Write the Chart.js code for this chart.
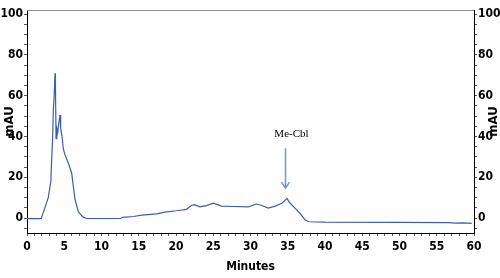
<!DOCTYPE html>
<html>
<head>
<meta charset="utf-8">
<script src="https://cdn.jsdelivr.net/npm/chart.js@4.4.1/dist/chart.umd.min.js"></script>
<style>
  html, body { margin: 0; padding: 0; background: #ffffff; }
  #wrap { width: 500px; height: 278px; position: relative; }
</style>
</head>
<body>
<div id="wrap"><canvas id="chromChart"></canvas></div>
<script>
// chromatogram trace (minutes vs mAU)
const minutes = [
  0, 1.9, 2.4, 2.85, 3.2, 3.3, 3.45, 3.53, 3.65, 3.76, 3.82, 3.9, 4.0, 4.12, 4.25,
  4.43, 4.52, 4.7, 4.87, 5.1, 5.55, 6.0, 6.2, 6.45, 6.9, 7.5, 8.0, 12.6, 12.8, 14.3,
  15.4, 17.4, 18.5, 20.1, 21.4, 22.1, 22.5, 23.2, 24.1, 25.0, 25.5, 26.1, 27.7, 29.7,
  30.8, 31.5, 32.4, 33.3, 34.2, 34.9, 35.3, 36.0, 36.6, 37.3, 37.8, 40, 50, 56.6,
  57.5, 58.5, 59.7
];
const mAU = [
  -0.3, -0.3, 5, 10, 18, 28, 40, 53, 60, 71, 64, 39, 44, 42, 46,
  50.5, 44, 40, 34, 31, 27, 22, 16, 9, 3, 0.6, -0.2, -0.2, 0.4, 0.8,
  1.5, 2.1, 2.9, 3.6, 4.3, 6.3, 6.6, 5.5, 6.1, 7.3, 6.7, 5.9, 5.7, 5.5,
  6.9, 6.2, 4.9, 5.9, 7.3, 9.7, 7.4, 4.8, 2.5, -0.8, -1.8, -2.0, -2.1, -2.2,
  -2.5, -2.3, -2.6
];

const xTickStep = 1;      // minor ticks every minute, labels every 5
const yTickStep = 5;      // minor ticks every 5 mAU, labels every 20
const yRange = [-7.3, 102];

// peak annotation (data units)
const peakLabel = 'Me-Cbl';
const peakLabelPos = { x: 35.5, y: 41 };
const peakArrow = { x: 34.7, yFrom: 34.3, yTo: 14.7 };

const tickFont = { family: "'Liberation Sans Narrow', 'DejaVu Sans Condensed', sans-serif", size: 12, weight: 'bold' };

const chromAnnotationsPlugin = {
    id: 'chromAnnotations',
    afterDraw(chart) {
        const { ctx, chartArea: { left, right, top, bottom }, scales: { x, y } } = chart;
        ctx.save();

        // grey frame line on top
        ctx.strokeStyle = '#8c8c8c';
        ctx.lineWidth = 1;
        ctx.beginPath();
        ctx.moveTo(left, top + 0.5);
        ctx.lineTo(right, top + 0.5);
        ctx.stroke();

        // arrow
        const ax = x.getPixelForValue(peakArrow.x);
        const ay1 = y.getPixelForValue(peakArrow.yFrom);
        const ay2 = y.getPixelForValue(peakArrow.yTo);
        ctx.strokeStyle = '#7098cc';
        ctx.lineWidth = 1.5;
        ctx.beginPath();
        ctx.moveTo(ax, ay1);
        ctx.lineTo(ax, ay2);
        ctx.moveTo(ax - 4, ay2 - 6);
        ctx.lineTo(ax, ay2);
        ctx.lineTo(ax + 4, ay2 - 6);
        ctx.stroke();

        ctx.fillStyle = '#000000';
        ctx.font = "11px 'Liberation Serif', serif";
        ctx.textAlign = 'center';
        ctx.textBaseline = 'middle';
        ctx.fillText(peakLabel, x.getPixelForValue(peakLabelPos.x), y.getPixelForValue(peakLabelPos.y));

        // y titles, both read bottom to top
        ctx.font = "bold 13px 'Liberation Sans Narrow', 'DejaVu Sans Condensed', sans-serif";
        const midY = (top + bottom) / 2;
        [9.5, 494].forEach(tx => {
            ctx.save();
            ctx.translate(tx, midY);
            ctx.rotate(-Math.PI / 2);
            ctx.fillText('mAU', 0, 0);
            ctx.restore();
        });

        ctx.restore();
    }
};

function yTicksEvery5(scale) {
    const ticks = [];
    for (let v = Math.ceil(yRange[0] / yTickStep) * yTickStep; v <= yRange[1]; v += yTickStep) {
        ticks.push({ value: v });
    }
    scale.ticks = ticks;
}

function yAxis(position, width) {
    return {
        type: 'linear',
        position: position,
        min: yRange[0],
        max: yRange[1],
        afterBuildTicks: yTicksEvery5,
        afterFit(scale) { scale.width = width; },
        ticks: {
            font: tickFont,
            color: '#000000',
            padding: 1,
            autoSkip: false,
            callback: v => (v % 20 === 0 ? v : '')
        },
        grid: { drawOnChartArea: false, drawTicks: true, tickLength: 3, color: '#555555' },
        border: { color: '#000000', width: 1 }
    };
}

new Chart(document.getElementById('chromChart'), {
    type: 'line',
    data: {
        datasets: [{
            data: minutes.map((m, i) => ({ x: m, y: mAU[i] })),
            borderColor: '#3c5ea8',
            borderWidth: 1.2,
            pointRadius: 0,
            tension: 0
        }]
    },
    options: {
        responsive: true,
        maintainAspectRatio: false,
        animation: false,
        layout: { padding: { top: 10, left: 0, right: 0, bottom: 0 } },
        plugins: { legend: { display: false }, tooltip: { enabled: false } },
        scales: {
            x: {
                type: 'linear',
                min: 0,
                max: 60,
                afterFit(scale) { scale.height = 45; },
                ticks: {
                    stepSize: xTickStep,
                    autoSkip: false,
                    maxRotation: 0,
                    font: tickFont,
                    color: '#000000',
                    padding: 4,
                    callback: v => (v % 5 === 0 ? v : '')
                },
                grid: { drawOnChartArea: false, drawTicks: true, tickLength: 3, color: '#555555' },
                border: { color: '#000000', width: 1 },
                title: {
                    display: true,
                    text: 'Minutes',
                    font: tickFont,
                    color: '#000000',
                    padding: { top: 0, bottom: 4 }
                }
            },
            y: yAxis('left', 27),
            y2: yAxis('right', 26)
        }
    },
    plugins: [chromAnnotationsPlugin]
});
</script>
</body>
</html>
